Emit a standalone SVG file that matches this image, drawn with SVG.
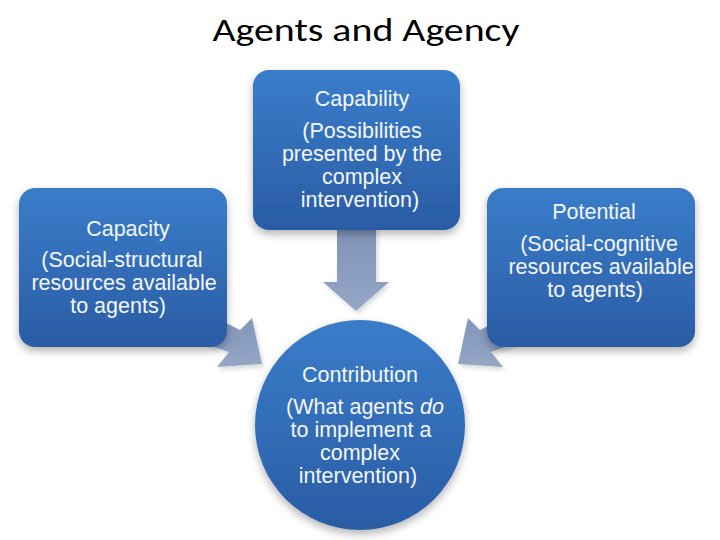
<svg xmlns="http://www.w3.org/2000/svg" width="720" height="540" viewBox="0 0 720 540">
  <defs>
    <linearGradient id="boxGrad" x1="0" y1="0" x2="0" y2="1">
      <stop offset="0" stop-color="#3a7dca"/>
      <stop offset="1" stop-color="#2a5ca4"/>
    </linearGradient>
    <linearGradient id="arrowGrad" x1="0" y1="0" x2="0" y2="1">
      <stop offset="0" stop-color="#7f93b8"/>
      <stop offset="1" stop-color="#95a6c6"/>
    </linearGradient>
    <filter id="shadow" x="-20%" y="-20%" width="140%" height="150%">
      <feDropShadow dx="0" dy="4" stdDeviation="4" flood-color="#000" flood-opacity="0.3"/>
    </filter>
    <filter id="ashadow" x="-30%" y="-30%" width="160%" height="160%">
      <feDropShadow dx="2" dy="3" stdDeviation="2" flood-color="#000" flood-opacity="0.15"/>
    </filter>
  </defs>
  <style>
    .box { fill: url(#boxGrad); filter: url(#shadow); }
    .arrow { fill: url(#arrowGrad); filter: url(#ashadow); }
    .lbl { font-family: "Liberation Sans", Arial, sans-serif; font-size: 21.5px; fill: #f4f6fa; text-anchor: middle; }
    .title { font-family: Carlito, Calibri, "Open Sans", "Liberation Sans", sans-serif; font-size: 32px; fill: #000000; text-anchor: middle; }
  </style>
  <rect width="720" height="540" fill="#ffffff"/>
  <text class="title" x="366" y="41" textLength="307" lengthAdjust="spacingAndGlyphs">Agents and Agency</text>

  <g id="connectors">
    <polygon class="arrow" points="337,225 376,225 376,282 389,282 356,311 323,282 337,282"/>
    <polygon class="arrow" points="200,310 240,330 252,318 262,364 217,367 229,352 195,340"/>
    <polygon class="arrow" points="520,310 480,330 468,318 458,364 503,367 491,352 525,340"/>
  </g>

  <g id="capability">
    <rect class="box" x="253" y="70" width="207" height="160" rx="16"/>
    <text class="lbl" x="362" y="106">Capability</text>
    <text class="lbl" x="362" y="138">(Possibilities</text>
    <text class="lbl" x="362" y="161">presented by the</text>
    <text class="lbl" x="362" y="184">complex</text>
    <text class="lbl" x="360" y="207">intervention)</text>
  </g>

  <g id="capacity">
    <rect class="box" x="19" y="188" width="208" height="159" rx="16"/>
    <text class="lbl" x="128" y="236">Capacity</text>
    <text class="lbl" x="122" y="267">(Social-structural</text>
    <text class="lbl" x="124" y="290">resources available</text>
    <text class="lbl" x="118" y="313">to agents)</text>
  </g>

  <g id="potential">
    <rect class="box" x="487" y="188" width="208" height="159" rx="16"/>
    <text class="lbl" x="594" y="219">Potential</text>
    <text class="lbl" x="599" y="251">(Social-cognitive</text>
    <text class="lbl" x="601" y="274">resources available</text>
    <text class="lbl" x="595" y="297">to agents)</text>
  </g>

  <g id="contribution">
    <circle class="box" cx="360" cy="425" r="105"/>
    <text class="lbl" x="360" y="382">Contribution</text>
    <text class="lbl" x="365" y="414">(What agents <tspan font-style="italic">do</tspan></text>
    <text class="lbl" x="361" y="437">to implement a</text>
    <text class="lbl" x="360" y="460">complex</text>
    <text class="lbl" x="358" y="483">intervention)</text>
  </g>
</svg>
